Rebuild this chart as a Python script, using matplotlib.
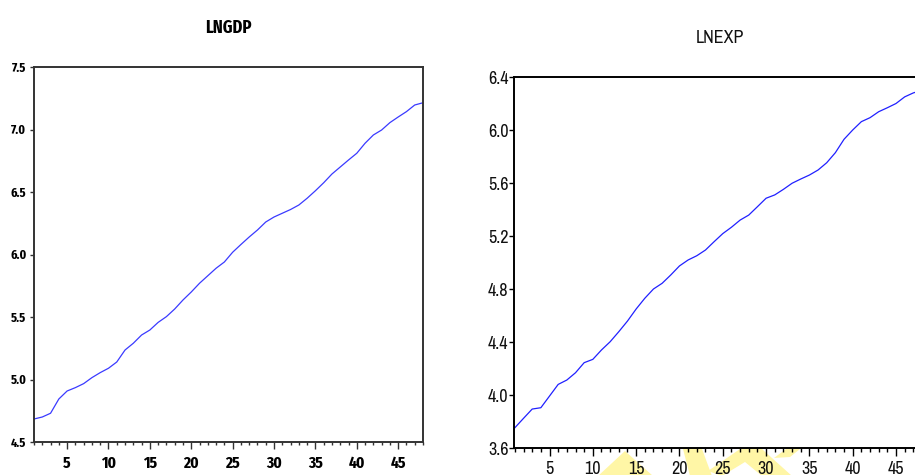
import matplotlib
matplotlib.use("Agg")
import matplotlib.pyplot as plt
from matplotlib.patches import Polygon
from matplotlib.ticker import MultipleLocator, FixedLocator, FixedFormatter

# ---- data ----
obs = list(range(1, 49))

lngdp = [4.684, 4.700, 4.730, 4.844, 4.908, 4.935, 4.967, 5.015, 5.055, 5.090,
         5.140, 5.236, 5.290, 5.356, 5.396, 5.457, 5.503, 5.564, 5.636, 5.700,
         5.770, 5.830, 5.890, 5.940, 6.018, 6.080, 6.140, 6.196, 6.260, 6.300,
         6.330, 6.360, 6.396, 6.450, 6.510, 6.574, 6.644, 6.700, 6.756, 6.810,
         6.890, 6.956, 6.996, 7.055, 7.100, 7.143, 7.196, 7.214]

lnexp = [3.753, 3.824, 3.894, 3.904, 3.992, 4.080, 4.113, 4.168, 4.244, 4.269,
         4.340, 4.402, 4.478, 4.558, 4.649, 4.730, 4.800, 4.843, 4.906, 4.974,
         5.019, 5.051, 5.094, 5.157, 5.218, 5.266, 5.320, 5.358, 5.421, 5.485,
         5.510, 5.552, 5.598, 5.630, 5.660, 5.698, 5.753, 5.829, 5.930, 6.000,
         6.063, 6.093, 6.138, 6.168, 6.200, 6.250, 6.280, 6.300]

left_title = "LNGDP"
right_title = "LNEXP"
x_major = [5, 10, 15, 20, 25, 30, 35, 40, 45]
left_yticks = [4.5, 5.0, 5.5, 6.0, 6.5, 7.0, 7.5]
left_ylabels = ["4.5", "5.0", "5.5", "6.0", "6.5", "7.0", "7.5"]
right_yticks = [3.6, 4.0, 4.4, 4.8, 5.2, 5.6, 6.0, 6.4]
right_ylabels = ["3.6", "4.0", "4.4", "4.8", "5.2", "5.6", "6.0", "6.4"]

W, H = 915, 475
fig = plt.figure(figsize=(W / 100, H / 100), dpi=100)
fig.patch.set_facecolor("white")

BOLDC = ["Fira Sans Extra Condensed", "Roboto Condensed", "DejaVu Sans"]
NARROW = ["Archivo Narrow", "Roboto Condensed", "DejaVu Sans"]

def px_rect(x0, x1, ytop, ybot):
    return [x0 / W, 1 - ybot / H, (x1 - x0) / W, (ybot - ytop) / H]

# ---- left panel ----
axL = fig.add_axes(px_rect(34, 423, 67, 442))
axL.plot(obs, lngdp, color="#3a3aff", lw=0.9)
axL.set_xlim(1, 48)
axL.set_ylim(4.5, 7.5)
axL.xaxis.set_major_locator(FixedLocator(x_major))
axL.xaxis.set_minor_locator(MultipleLocator(1))
axL.yaxis.set_major_locator(FixedLocator(left_yticks))
axL.yaxis.set_major_formatter(FixedFormatter(left_ylabels))
for s in axL.spines.values():
    s.set_color("#333333")
    s.set_linewidth(1.4)
axL.tick_params(axis="x", which="major", length=5, width=1, pad=5, color="#333333")
axL.tick_params(axis="x", which="minor", length=2.5, width=1, color="#333333")
axL.tick_params(axis="y", which="major", length=3, width=1, pad=2.5, color="#333333")
for lab in axL.get_xticklabels():
    lab.set_family(BOLDC); lab.set_fontweight("bold"); lab.set_fontsize(12)
for lab in axL.get_yticklabels():
    lab.set_family(BOLDC); lab.set_fontweight("bold"); lab.set_fontsize(9.5)
fig.text(228 / W, 1 - 28 / H, left_title, ha="center", va="center",
         family=BOLDC, fontweight="bold", fontsize=13)

# ---- right panel ----
axR = fig.add_axes(px_rect(514, 922, 77, 448))
axR.plot(obs, lnexp, color="#2020ff", lw=0.9)
axR.set_xlim(0.9, 48)
axR.set_ylim(3.6, 6.4)
axR.xaxis.set_major_locator(FixedLocator(x_major))
axR.xaxis.set_minor_locator(MultipleLocator(1))
axR.yaxis.set_major_locator(FixedLocator(right_yticks))
axR.yaxis.set_major_formatter(FixedFormatter(right_ylabels))
for s in axR.spines.values():
    s.set_color("black")
    s.set_linewidth(1.4)
axR.tick_params(axis="x", which="major", length=6, width=1, pad=3)
axR.tick_params(axis="x", which="minor", length=3, width=1)
axR.tick_params(axis="y", which="major", length=3.5, width=1, pad=0.5)
for lab in axR.get_xticklabels() + axR.get_yticklabels():
    lab.set_family(NARROW); lab.set_fontsize(13); lab.set_color("#111111")
fig.text(720 / W, 1 - 38 / H, right_title, ha="center", va="center",
         family=NARROW, fontsize=13, color="#111111")

# ---- faint yellow watermark fragments below the right panel ----
wm_shapes = [
    [(598, 476), (625, 451), (653, 476)],
    [(683, 449), (702, 449), (712, 476), (690, 476)],
    [(708, 471), (740, 449), (762, 449), (792, 476), (762, 476), (745, 462), (722, 476)],
    [(774, 458), (786, 449), (800, 449), (790, 457)],
]
for shp in wm_shapes:
    pts = [(x / W, 1 - y / H) for x, y in shp]
    fig.patches.append(Polygon(pts, closed=True, transform=fig.transFigure,
                               facecolor="#fff6a6", edgecolor="none", zorder=-1))

fig.savefig("out.png", dpi=100, facecolor="white")
